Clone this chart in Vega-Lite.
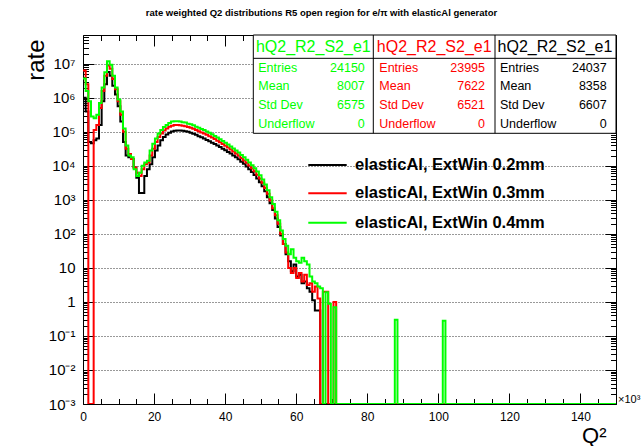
{
  "$schema": "https://vega.github.io/schema/vega-lite/v6.json",
  "width": 533,
  "height": 369,
  "autosize": {"type": "none"},
  "padding": {"left": 83, "top": 35, "right": 26, "bottom": 42},
  "background": "white",
  "title": {"text": "rate weighted Q2 distributions R5 open region for e/π with elasticAl generator", "fontSize": 9.5, "fontWeight": "bold", "anchor": "middle", "frame": "group", "dx": -28, "offset": 9, "baseline": "alphabetic", "color": "#000", "font": "Liberation Sans"},
  "config": {
    "font": "Liberation Sans",
    "view": {"stroke": "#000", "strokeWidth": 1},
    "axis": {"tickColor": "#000", "labelColor": "#000", "titleColor": "#000", "tickWidth": 1, "domain": false, "labelFlush": false, "labelOverlap": false, "labelBound": false, "grid": false}
  },
  "datasets": {
    "hist": [
      {"q":0,"k":1000000,"r":6310000,"g":3715000},
      {"q":0.75,"k":398100,"r":2512000,"g":1585000},
      {"q":1.5,"k":50120,"r":0,"g":794300},
      {"q":2.25,"k":45710,"r":0,"g":281800},
      {"q":3,"k":56230,"r":112200,"g":251200},
      {"q":3.75,"k":63100,"r":158500,"g":316200},
      {"q":4.5,"k":158500,"r":501200,"g":707900},
      {"q":5.25,"k":794300,"r":1585000,"g":1995000},
      {"q":6,"k":2512000,"r":4467000,"g":5623000},
      {"q":6.75,"k":5754000,"r":8913000,"g":11750000},
      {"q":7.5,"k":4467000,"r":7079000,"g":9333000},
      {"q":8.25,"k":2239000,"r":3548000,"g":4467000},
      {"q":9,"k":1259000,"r":1778000,"g":1995000},
      {"q":9.75,"k":562300,"r":794300,"g":891300},
      {"q":10.5,"k":199500,"r":316200,"g":398100},
      {"q":11.25,"k":50120,"r":100000,"g":125900},
      {"q":12,"k":19950,"r":31620,"g":39810},
      {"q":12.75,"k":17780,"r":22390,"g":19950},
      {"q":13.5,"k":15850,"r":15850,"g":17780},
      {"q":14.25,"k":8913,"r":8913,"g":7943},
      {"q":15,"k":4467,"r":6310,"g":5012},
      {"q":15.75,"k":1585,"r":5012,"g":6310},
      {"q":16.5,"k":1585,"r":7943,"g":10000},
      {"q":17.25,"k":5012,"r":11220,"g":12590},
      {"q":18,"k":7943,"r":12590,"g":14130},
      {"q":18.75,"k":11220,"r":19950,"g":28180},
      {"q":19.5,"k":17780,"r":31620,"g":44670},
      {"q":20.25,"k":28180,"r":50120,"g":63100},
      {"q":21,"k":39810,"r":70790,"g":89130},
      {"q":21.75,"k":56230,"r":89130,"g":112200},
      {"q":22.5,"k":70790,"r":109600,"g":138000},
      {"q":23.25,"k":83180,"r":125900,"g":158500},
      {"q":24,"k":93330,"r":141300,"g":182000},
      {"q":24.75,"k":102300,"r":151400,"g":199500},
      {"q":25.5,"k":107200,"r":158500,"g":204200},
      {"q":26.25,"k":109600,"r":158500,"g":204200},
      {"q":27,"k":109600,"r":154900,"g":199500},
      {"q":27.75,"k":107200,"r":151400,"g":190500},
      {"q":28.5,"k":104700,"r":144500,"g":186200},
      {"q":29.25,"k":100000,"r":138000,"g":173800},
      {"q":30,"k":93330,"r":131800,"g":166000},
      {"q":30.75,"k":87100,"r":123000,"g":154900},
      {"q":31.5,"k":81280,"r":112200,"g":141300},
      {"q":32.25,"k":74130,"r":104700,"g":131800},
      {"q":33,"k":69180,"r":95500,"g":120200},
      {"q":33.75,"k":63100,"r":89130,"g":112200},
      {"q":34.5,"k":57540,"r":81280,"g":102300},
      {"q":35.25,"k":52480,"r":74130,"g":93330},
      {"q":36,"k":47860,"r":67610,"g":85110},
      {"q":36.75,"k":43650,"r":61660,"g":75860},
      {"q":37.5,"k":39810,"r":54950,"g":67610},
      {"q":38.25,"k":35480,"r":48980,"g":60260},
      {"q":39,"k":31620,"r":43650,"g":53700},
      {"q":39.75,"k":28840,"r":38900,"g":47860},
      {"q":40.5,"k":25700,"r":34670,"g":42660},
      {"q":41.25,"k":22910,"r":30200,"g":37150},
      {"q":42,"k":19950,"r":26300,"g":32360},
      {"q":42.75,"k":17780,"r":22910,"g":28180},
      {"q":43.5,"k":15490,"r":19950,"g":24550},
      {"q":44.25,"k":13180,"r":16980,"g":20890},
      {"q":45,"k":11480,"r":14450,"g":17780},
      {"q":45.75,"k":9550,"r":12300,"g":15140},
      {"q":46.5,"k":7943,"r":10230,"g":12590},
      {"q":47.25,"k":6607,"r":8511,"g":10470},
      {"q":48,"k":5370,"r":6918,"g":8511},
      {"q":48.75,"k":4266,"r":5495,"g":6761},
      {"q":49.5,"k":3311,"r":4266,"g":5248},
      {"q":50.25,"k":2512,"r":3162,"g":3981},
      {"q":51,"k":1778,"r":2239,"g":2818},
      {"q":51.75,"k":1202,"r":1514,"g":1905},
      {"q":52.5,"k":794,"r":955,"g":1202},
      {"q":53.25,"k":501,"r":562,"g":759},
      {"q":54,"k":282,"r":355,"g":447},
      {"q":54.75,"k":158,"r":200,"g":251},
      {"q":55.5,"k":89.1,"r":100,"g":126},
      {"q":56.25,"k":50.1,"r":50.1,"g":70.8},
      {"q":57,"k":25.1,"r":28.2,"g":44.7},
      {"q":57.75,"k":15.8,"r":10,"g":25.1},
      {"q":58.5,"k":7.94,"r":7.08,"g":35.5},
      {"q":59.25,"k":12.6,"r":10,"g":20},
      {"q":60,"k":5.62,"r":5.01,"g":15.8},
      {"q":60.75,"k":6.31,"r":7.08,"g":14.1},
      {"q":61.5,"k":3.55,"r":3.98,"g":20},
      {"q":62.25,"k":3.98,"r":6.31,"g":15.8},
      {"q":63,"k":2.51,"r":3.16,"g":12.6},
      {"q":63.75,"k":2,"r":3.55,"g":5.62},
      {"q":64.5,"k":1.12,"r":2,"g":3.98},
      {"q":65.25,"k":0.562,"r":2.82,"g":3.55},
      {"q":66,"k":0.562,"r":1.26,"g":2.82},
      {"q":66.75,"k":0,"r":0,"g":2.51},
      {"q":67.5,"k":0,"r":2,"g":0},
      {"q":68.25,"k":0,"r":2,"g":1.91},
      {"q":69,"k":0,"r":0,"g":0.891},
      {"q":69.75,"k":0,"r":0,"g":0},
      {"q":70.5,"k":0,"r":1,"g":0.692},
      {"q":71.25,"k":0,"r":0,"g":0},
      {"q":87.75,"k":0,"r":0,"g":0.3},
      {"q":88.5,"k":0,"r":0,"g":0},
      {"q":101.25,"k":0,"r":0,"g":0.28},
      {"q":102,"k":0,"r":0,"g":0},
      {"q":150,"k":0,"r":0,"g":0}
    ],
    "stats": [
      {"box":"g","title":"hQ2_R2_S2_e1","labels":["Entries","Mean","Std Dev","Underflow"],"values":["24150","8007","6575","0"]},
      {"box":"r","title":"hQ2_R2_S2_e1","labels":["Entries","Mean","Std Dev","Underflow"],"values":["23995","7622","6521","0"]},
      {"box":"k","title":"hQ2_R2_S2_e1","labels":["Entries","Mean","Std Dev","Underflow"],"values":["24037","8358","6607","0"]}
    ],
    "legend": [
      {"s":"k","label":"elasticAl, ExtWin 0.2mm"},
      {"s":"r","label":"elasticAl, ExtWin 0.3mm"},
      {"s":"g","label":"elasticAl, ExtWin 0.4mm"}
    ]
  },
  "layer": [
    {
      "data": {"name": "hist"},
      "transform": [{"fold": ["k", "r", "g"], "as": ["series", "rate"]}],
      "mark": {"type": "line", "interpolate": "step-after", "strokeWidth": 2, "invalid": "show", "clip": true},
      "encoding": {
        "x": {"field": "q", "type": "quantitative", "scale": {"domain": [0, 150], "nice": false, "zero": false},
          "axis": {"orient": "bottom", "values": [0,20,40,60,80,100,120,140], "tickSize": -11, "labelPadding": 18, "labelFontSize": 12, "format": "d",
            "title": "Q²", "titleFontSize": 22, "titleFontWeight": "normal", "titleAlign": "right", "titleBaseline": "alphabetic", "titleX": 523, "titleY": 38}},
        "y": {"field": "rate", "type": "quantitative", "scale": {"type": "log", "domain": [0.001, 70000000], "nice": false, "clamp": true},
          "axis": {"orient": "left", "values": [0.001,0.01,0.1,1,10,100,1000,10000,100000,1000000,10000000], "tickSize": -11, "labelPadding": 19, "labelFontSize": 15,
            "labelExpr": "datum.value < 0.005 ? '10⁻³' : datum.value < 0.05 ? '10⁻²' : datum.value < 0.5 ? '10⁻¹' : datum.value < 5 ? '1' : datum.value < 50 ? '10' : datum.value < 500 ? '10²' : datum.value < 5000 ? '10³' : datum.value < 50000 ? '10⁴' : datum.value < 500000 ? '10⁵' : datum.value < 5000000 ? '10⁶' : '10⁷'",
            "grid": true, "gridDash": [1, 2], "gridColor": "#000", "gridOpacity": 0.8,
            "title": "rate", "titleFontSize": 24, "titleFontWeight": "normal", "titleAngle": -90, "titleAlign": "right", "titleBaseline": "alphabetic", "titleX": -40, "titleY": 4}},
        "color": {"field": "series", "type": "nominal", "scale": {"domain": ["k", "r", "g"], "range": ["#000000", "#ff0000", "#00ff00"]}, "legend": null}
      }
    },
    {
      "data": {"values": [{}]},
      "mark": {"type": "point", "opacity": 0},
      "encoding": {
        "x": {"datum": 0, "type": "quantitative", "scale": {"domain": [0, 150], "nice": false, "zero": false},
          "axis": {"orient": "bottom", "values": [5,10,15,25,30,35,45,50,55,65,70,75,85,90,95,105,110,115,125,130,135,145,150], "tickSize": -5.5, "labels": false, "title": null}},
        "y": {"datum": 1, "type": "quantitative", "scale": {"type": "log", "domain": [0.001, 70000000], "nice": false, "clamp": true},
          "axis": {"orient": "left", "values": [0.002,0.003,0.004,0.005,0.006,0.007,0.008,0.009,0.02,0.03,0.04,0.05,0.06,0.07,0.08,0.09,0.2,0.3,0.4,0.5,0.6,0.7,0.8,0.9,2,3,4,5,6,7,8,9,20,30,40,50,60,70,80,90,200,300,400,500,600,700,800,900,2000,3000,4000,5000,6000,7000,8000,9000,20000,30000,40000,50000,60000,70000,80000,90000,200000,300000,400000,500000,600000,700000,800000,900000,2000000,3000000,4000000,5000000,6000000,7000000,8000000,9000000,20000000,30000000,40000000,50000000,60000000], "tickSize": -5.5, "labels": false, "title": null}}
      }
    },
    {
      "data": {"values": [{}]},
      "mark": {"type": "point", "opacity": 0},
      "encoding": {
        "x": {"datum": 0, "type": "quantitative", "scale": {"domain": [0, 150], "nice": false, "zero": false},
          "axis": {"orient": "top", "values": [0,20,40,60,80,100,120,140], "tickSize": -11, "labels": false, "title": null}},
        "y": {"datum": 1, "type": "quantitative", "scale": {"type": "log", "domain": [0.001, 70000000], "nice": false, "clamp": true},
          "axis": {"orient": "right", "values": [0.001,0.01,0.1,1,10,100,1000,10000,100000,1000000,10000000], "tickSize": -11, "labels": false, "title": null}}
      }
    },
    {
      "data": {"values": [{}]},
      "mark": {"type": "point", "opacity": 0},
      "encoding": {
        "x": {"datum": 0, "type": "quantitative", "scale": {"domain": [0, 150], "nice": false, "zero": false},
          "axis": {"orient": "top", "values": [5,10,15,25,30,35,45,50,55,65,70,75,85,90,95,105,110,115,125,130,135,145,150], "tickSize": -5.5, "labels": false, "title": null}},
        "y": {"datum": 1, "type": "quantitative", "scale": {"type": "log", "domain": [0.001, 70000000], "nice": false, "clamp": true},
          "axis": {"orient": "right", "values": [0.002,0.003,0.004,0.005,0.006,0.007,0.008,0.009,0.02,0.03,0.04,0.05,0.06,0.07,0.08,0.09,0.2,0.3,0.4,0.5,0.6,0.7,0.8,0.9,2,3,4,5,6,7,8,9,20,30,40,50,60,70,80,90,200,300,400,500,600,700,800,900,2000,3000,4000,5000,6000,7000,8000,9000,20000,30000,40000,50000,60000,70000,80000,90000,200000,300000,400000,500000,600000,700000,800000,900000,2000000,3000000,4000000,5000000,6000000,7000000,8000000,9000000,20000000,30000000,40000000,50000000,60000000], "tickSize": -5.5, "labels": false, "title": null}}
      }
    },
    {
      "data": {"values": [{}]},
      "mark": {"type": "rect", "fill": "white", "stroke": "#000", "strokeWidth": 1},
      "encoding": {
        "x": {"datum": 47.93, "type": "quantitative", "scale": {"domain": [0, 150], "nice": false, "zero": false}, "axis": null},
        "x2": {"datum": 150},
        "y": {"datum": 90300, "type": "quantitative", "scale": {"type": "log", "domain": [0.001, 70000000], "nice": false, "clamp": true}, "axis": null},
        "y2": {"datum": 70000000}
      }
    },
    {
      "data": {"values": [{}]},
      "mark": {"type": "rule", "stroke": "#000", "strokeWidth": 1},
      "encoding": {
        "x": {"datum": 47.93, "type": "quantitative", "scale": {"domain": [0, 150], "nice": false, "zero": false}, "axis": null},
        "x2": {"datum": 150},
        "y": {"datum": 14450000, "type": "quantitative", "scale": {"type": "log", "domain": [0.001, 70000000], "nice": false, "clamp": true}, "axis": null}
      }
    },
    {
      "data": {"values": [{}]},
      "mark": {"type": "rule", "stroke": "#000", "strokeWidth": 1},
      "encoding": {
        "x": {"datum": 81.7, "type": "quantitative", "scale": {"domain": [0, 150], "nice": false, "zero": false}, "axis": null},
        "y": {"datum": 90300, "type": "quantitative", "scale": {"type": "log", "domain": [0.001, 70000000], "nice": false, "clamp": true}, "axis": null},
        "y2": {"datum": 70000000}
      }
    },
    {
      "data": {"values": [{}]},
      "mark": {"type": "rule", "stroke": "#000", "strokeWidth": 1},
      "encoding": {
        "x": {"datum": 115.95, "type": "quantitative", "scale": {"domain": [0, 150], "nice": false, "zero": false}, "axis": null},
        "y": {"datum": 90300, "type": "quantitative", "scale": {"type": "log", "domain": [0.001, 70000000], "nice": false, "clamp": true}, "axis": null},
        "y2": {"datum": 70000000}
      }
    },
    {
      "data": {"name": "stats"},
      "transform": [{"filter": "datum.box == 'g'"}],
      "mark": {"type": "text", "fontSize": 16, "align": "center", "baseline": "middle", "color": "#00ff00"},
      "encoding": {
        "x": {"datum": 64.81, "type": "quantitative", "scale": {"domain": [0, 150], "nice": false, "zero": false}, "axis": null},
        "y": {"datum": 31900000, "type": "quantitative", "scale": {"type": "log", "domain": [0.001, 70000000], "nice": false, "clamp": true}, "axis": null},
        "text": {"field": "title", "type": "nominal"}
      }
    },
    {
      "data": {"name": "stats"},
      "transform": [{"filter": "datum.box == 'g'"}],
      "mark": {"type": "text", "fontSize": 12.5, "align": "left", "baseline": "middle", "lineHeight": 18.75, "color": "#00ff00"},
      "encoding": {
        "x": {"datum": 49.33, "type": "quantitative", "scale": {"domain": [0, 150], "nice": false, "zero": false}, "axis": null},
        "y": {"datum": 7650000, "type": "quantitative", "scale": {"type": "log", "domain": [0.001, 70000000], "nice": false, "clamp": true}, "axis": null},
        "text": {"field": "labels", "type": "nominal"}
      }
    },
    {
      "data": {"name": "stats"},
      "transform": [{"filter": "datum.box == 'g'"}],
      "mark": {"type": "text", "fontSize": 12.5, "align": "right", "baseline": "middle", "lineHeight": 18.75, "color": "#00ff00"},
      "encoding": {
        "x": {"datum": 79.31, "type": "quantitative", "scale": {"domain": [0, 150], "nice": false, "zero": false}, "axis": null},
        "y": {"datum": 7650000, "type": "quantitative", "scale": {"type": "log", "domain": [0.001, 70000000], "nice": false, "clamp": true}, "axis": null},
        "text": {"field": "values", "type": "nominal"}
      }
    },
    {
      "data": {"name": "stats"},
      "transform": [{"filter": "datum.box == 'r'"}],
      "mark": {"type": "text", "fontSize": 16, "align": "center", "baseline": "middle", "color": "#ff0000"},
      "encoding": {
        "x": {"datum": 98.84, "type": "quantitative", "scale": {"domain": [0, 150], "nice": false, "zero": false}, "axis": null},
        "y": {"datum": 31900000, "type": "quantitative", "scale": {"type": "log", "domain": [0.001, 70000000], "nice": false, "clamp": true}, "axis": null},
        "text": {"field": "title", "type": "nominal"}
      }
    },
    {
      "data": {"name": "stats"},
      "transform": [{"filter": "datum.box == 'r'"}],
      "mark": {"type": "text", "fontSize": 12.5, "align": "left", "baseline": "middle", "lineHeight": 18.75, "color": "#ff0000"},
      "encoding": {
        "x": {"datum": 83.39, "type": "quantitative", "scale": {"domain": [0, 150], "nice": false, "zero": false}, "axis": null},
        "y": {"datum": 7650000, "type": "quantitative", "scale": {"type": "log", "domain": [0.001, 70000000], "nice": false, "clamp": true}, "axis": null},
        "text": {"field": "labels", "type": "nominal"}
      }
    },
    {
      "data": {"name": "stats"},
      "transform": [{"filter": "datum.box == 'r'"}],
      "mark": {"type": "text", "fontSize": 12.5, "align": "right", "baseline": "middle", "lineHeight": 18.75, "color": "#ff0000"},
      "encoding": {
        "x": {"datum": 113.13, "type": "quantitative", "scale": {"domain": [0, 150], "nice": false, "zero": false}, "axis": null},
        "y": {"datum": 7650000, "type": "quantitative", "scale": {"type": "log", "domain": [0.001, 70000000], "nice": false, "clamp": true}, "axis": null},
        "text": {"field": "values", "type": "nominal"}
      }
    },
    {
      "data": {"name": "stats"},
      "transform": [{"filter": "datum.box == 'k'"}],
      "mark": {"type": "text", "fontSize": 16, "align": "center", "baseline": "middle", "color": "#000000"},
      "encoding": {
        "x": {"datum": 132.83, "type": "quantitative", "scale": {"domain": [0, 150], "nice": false, "zero": false}, "axis": null},
        "y": {"datum": 31900000, "type": "quantitative", "scale": {"type": "log", "domain": [0.001, 70000000], "nice": false, "clamp": true}, "axis": null},
        "text": {"field": "title", "type": "nominal"}
      }
    },
    {
      "data": {"name": "stats"},
      "transform": [{"filter": "datum.box == 'k'"}],
      "mark": {"type": "text", "fontSize": 12.5, "align": "left", "baseline": "middle", "lineHeight": 18.75, "color": "#000000"},
      "encoding": {
        "x": {"datum": 117.36, "type": "quantitative", "scale": {"domain": [0, 150], "nice": false, "zero": false}, "axis": null},
        "y": {"datum": 7650000, "type": "quantitative", "scale": {"type": "log", "domain": [0.001, 70000000], "nice": false, "clamp": true}, "axis": null},
        "text": {"field": "labels", "type": "nominal"}
      }
    },
    {
      "data": {"name": "stats"},
      "transform": [{"filter": "datum.box == 'k'"}],
      "mark": {"type": "text", "fontSize": 12.5, "align": "right", "baseline": "middle", "lineHeight": 18.75, "color": "#000000"},
      "encoding": {
        "x": {"datum": 147.38, "type": "quantitative", "scale": {"domain": [0, 150], "nice": false, "zero": false}, "axis": null},
        "y": {"datum": 7650000, "type": "quantitative", "scale": {"type": "log", "domain": [0.001, 70000000], "nice": false, "clamp": true}, "axis": null},
        "text": {"field": "values", "type": "nominal"}
      }
    },
    {
      "data": {"name": "legend"},
      "transform": [{"filter": "datum.s == 'k'"}],
      "layer": [
        {"mark": {"type": "rule", "stroke": "#000000", "strokeWidth": 2},
         "encoding": {
           "x": {"datum": 63.4, "type": "quantitative", "scale": {"domain": [0, 150], "nice": false, "zero": false}, "axis": null},
           "x2": {"datum": 74.21},
           "y": {"datum": 10570, "type": "quantitative", "scale": {"type": "log", "domain": [0.001, 70000000], "nice": false, "clamp": true}, "axis": null}}},
        {"mark": {"type": "text", "fontSize": 16.5, "fontWeight": "bold", "align": "left", "baseline": "middle", "color": "#000"},
         "encoding": {
           "x": {"datum": 76.55, "type": "quantitative", "scale": {"domain": [0, 150], "nice": false, "zero": false}, "axis": null},
           "y": {"datum": 10570, "type": "quantitative", "scale": {"type": "log", "domain": [0.001, 70000000], "nice": false, "clamp": true}, "axis": null},
           "text": {"field": "label", "type": "nominal"}}}
      ]
    },
    {
      "data": {"name": "legend"},
      "transform": [{"filter": "datum.s == 'r'"}],
      "layer": [
        {"mark": {"type": "rule", "stroke": "#ff0000", "strokeWidth": 2},
         "encoding": {
           "x": {"datum": 63.4, "type": "quantitative", "scale": {"domain": [0, 150], "nice": false, "zero": false}, "axis": null},
           "x2": {"datum": 74.21},
           "y": {"datum": 1556, "type": "quantitative", "scale": {"type": "log", "domain": [0.001, 70000000], "nice": false, "clamp": true}, "axis": null}}},
        {"mark": {"type": "text", "fontSize": 16.5, "fontWeight": "bold", "align": "left", "baseline": "middle", "color": "#000"},
         "encoding": {
           "x": {"datum": 76.55, "type": "quantitative", "scale": {"domain": [0, 150], "nice": false, "zero": false}, "axis": null},
           "y": {"datum": 1556, "type": "quantitative", "scale": {"type": "log", "domain": [0.001, 70000000], "nice": false, "clamp": true}, "axis": null},
           "text": {"field": "label", "type": "nominal"}}}
      ]
    },
    {
      "data": {"name": "legend"},
      "transform": [{"filter": "datum.s == 'g'"}],
      "layer": [
        {"mark": {"type": "rule", "stroke": "#00ff00", "strokeWidth": 2},
         "encoding": {
           "x": {"datum": 63.4, "type": "quantitative", "scale": {"domain": [0, 150], "nice": false, "zero": false}, "axis": null},
           "x2": {"datum": 74.21},
           "y": {"datum": 212.9, "type": "quantitative", "scale": {"type": "log", "domain": [0.001, 70000000], "nice": false, "clamp": true}, "axis": null}}},
        {"mark": {"type": "text", "fontSize": 16.5, "fontWeight": "bold", "align": "left", "baseline": "middle", "color": "#000"},
         "encoding": {
           "x": {"datum": 76.55, "type": "quantitative", "scale": {"domain": [0, 150], "nice": false, "zero": false}, "axis": null},
           "y": {"datum": 212.9, "type": "quantitative", "scale": {"type": "log", "domain": [0.001, 70000000], "nice": false, "clamp": true}, "axis": null},
           "text": {"field": "label", "type": "nominal"}}}
      ]
    },
    {
      "data": {"values": [{"t": "×10³"}]},
      "mark": {"type": "text", "fontSize": 11, "align": "left", "baseline": "middle", "dx": 2, "dy": -4, "color": "#000"},
      "encoding": {
        "x": {"datum": 150, "type": "quantitative", "scale": {"domain": [0, 150], "nice": false, "zero": false}, "axis": null},
        "y": {"datum": 0.001, "type": "quantitative", "scale": {"type": "log", "domain": [0.001, 70000000], "nice": false, "clamp": true}, "axis": null},
        "text": {"field": "t", "type": "nominal"}
      }
    }
  ],
  "resolve": {"axis": {"x": "independent", "y": "independent"}}
}
